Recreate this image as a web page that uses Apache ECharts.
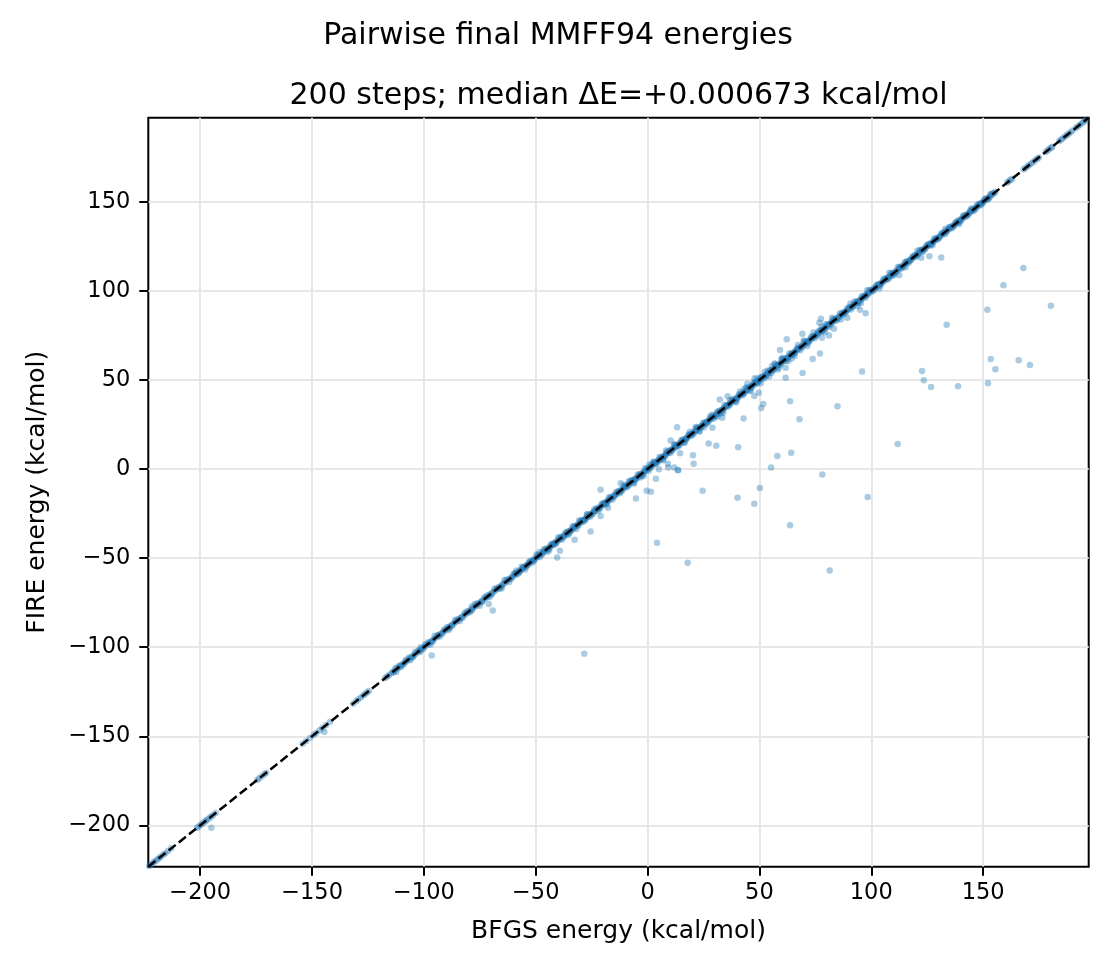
<!DOCTYPE html>
<html><head><meta charset="utf-8">
<script src="https://cdn.jsdelivr.net/npm/echarts@6/dist/echarts.min.js"></script>
<style>html,body{margin:0;padding:0;background:#fff}#c{width:1116px;height:972px}</style>
</head><body><div id="c"></div>
<script>
const axisMin = -223.2, axisMax = 197.2;
const tickValues = [-200, -150, -100, -50, 0, 50, 100, 150];
const titleMain = 'Pairwise final MMFF94 energies';
const titleSub = '200 steps; median ΔE=+0.000673 kcal/mol';
const xName = 'BFGS energy (kcal/mol)';
const yName = 'FIRE energy (kcal/mol)';

// molecules where FIRE and BFGS converge to the same energy (kcal/mol)
const sameEnergy = [
-222.8,-222.1,-221.5,-220.6,-219.9,-219.0,-218.2,-217.5,-216.4,-215.6,-214.3,-212.9,
-201.4,-200.6,-199.8,-199.1,-198.3,-197.6,-196.9,-196.0,-195.2,-194.3,-193.1,
-174.5,-173.6,-172.4,-171.3,-170.5,
-154.2,-152.6,-150.8,-149.3,-148.1,-146.6,-145.4,-143.7,-141.9,
-131.7,-130.3,-129.4,-128.2,-127.1,-126.3,-125.4,-124.6,
-117.3,-116.4,-115.7,-114.6,-113.9,-113.1,-112.2,-111.6,-110.7,-110.0,-109.2,-108.4,-107.9,-107.1,-106.3,-105.5,-104.8,-104.2,-103.4,-102.6,-101.9,-101.3,-100.5,-99.7,-99.2,-98.3,-97.7,-96.9,-96.2,-95.6,-94.7,-94.0,-93.3,-92.8,-91.7,-91.1,-90.5,-89.6,-88.9,-88.2,-87.6,-86.7,-86.0,-85.4,-84.5,-83.8,-83.2,-82.3,-81.6,-80.9,-80.1,-79.5,-78.7,-78.0,-77.2,-76.6,-75.9,-75.1,-74.4,-73.8,-73.0,-72.3,-71.5,-70.8,-70.2,-69.5,-68.7,-68.0,-67.3,-66.5,-65.9,-65.0,-64.4,-63.7,-63.0,-62.2,-61.6,-60.9,-60.3,
-59.6,-59.0,-58.7,-58.0,-57.4,-57.1,-56.5,-55.8,-55.4,-54.9,-54.2,-53.8,-53.1,-52.7,-52.0,-51.5,-51.1,-50.4,-49.9,-49.3,-48.8,-48.4,-47.7,-47.2,-46.6,-46.2,-45.5,-44.9,-44.6,-43.9,-43.3,-42.8,-42.3,-41.7,-41.2,-40.8,-40.1,-39.6,-39.0,-38.7,-38.1,-37.4,-37.0,-36.3,-35.9,-35.2,-34.8,-34.3,-33.6,-33.2,-32.7,-32.1,-31.5,-31.1,-30.4,-30.0,-29.3,-28.9,-28.4,-27.7,-27.3,-26.6,-26.2,-25.7,-25.1,-24.5,-24.0,-23.6,-22.9,-22.5,-21.8,-21.4,-20.7,-20.2,-19.8,-19.1,-18.7,-18.0,-17.6,-17.0,-16.4,-16.0,-15.3,-14.9,-14.2,-13.8,-13.1,-12.7,-12.0,-11.6,-11.1,-10.4,-9.9,-9.5,-8.8,-8.3,-7.9,-7.2,-6.8,-6.1,-5.7,-5.0,-4.6,-3.9,-3.5,-2.8,-2.4,-1.7,-1.3,-0.6,-0.2,
0.3,0.9,1.4,1.8,2.4,2.9,3.5,3.9,4.6,5.0,5.7,6.1,6.8,7.2,7.7,8.3,8.8,9.3,9.8,10.4,10.9,11.3,12.0,12.4,13.1,13.5,14.2,14.6,15.1,15.7,16.2,16.8,17.3,17.9,18.3,18.9,19.4,20.0,20.5,21.1,21.6,22.0,22.7,23.1,23.8,24.2,24.9,25.3,25.8,26.4,26.9,27.5,28.0,28.4,29.1,29.5,30.2,30.7,31.1,31.8,32.2,32.9,33.3,33.9,34.4,35.0,35.5,36.1,36.6,37.0,37.7,38.2,38.8,39.2,39.9,40.3,41.0,41.4,42.1,42.5,43.0,43.7,44.1,44.8,45.2,45.9,46.4,46.8,47.4,48.0,48.5,49.0,49.6,
50.1,50.7,51.2,51.7,52.3,52.8,53.4,53.8,54.5,54.9,55.5,56.0,56.6,57.1,57.5,58.2,58.6,59.3,59.7,60.4,60.8,61.5,62.0,62.4,63.1,63.6,64.2,64.6,65.3,65.8,66.2,66.9,67.4,68.0,68.5,69.1,69.5,70.2,70.6,71.3,71.8,72.3,72.9,73.4,73.9,74.5,75.0,75.6,76.1,76.5,77.2,77.7,78.3,78.8,79.2,79.9,80.4,81.0,81.5,82.1,82.5,83.2,83.7,84.3,84.7,85.4,85.9,86.3,87.0,87.5,88.1,88.6,89.0,89.7,90.2,90.8,91.3,91.9,92.3,93.0,93.5,94.1,94.5,95.2,95.7,96.1,96.8,97.3,97.9,98.4,98.8,99.5,
100.0,100.6,101.1,101.7,102.1,102.8,103.3,103.9,104.3,105.0,105.5,106.1,106.6,107.2,107.6,108.3,108.8,109.4,109.9,110.3,111.0,111.5,112.1,112.6,113.2,113.6,114.3,114.8,115.4,115.9,116.5,116.9,117.6,118.1,118.7,119.2,119.8,120.2,120.9,121.4,122.0,122.5,123.1,123.5,124.2,124.7,125.3,125.8,126.4,126.8,127.5,128.0,128.6,129.1,129.7,130.1,130.8,131.3,131.9,132.4,133.0,133.4,134.1,134.6,135.2,135.7,136.3,136.7,137.4,137.9,138.5,139.0,139.6,140.0,140.7,141.2,141.8,142.3,142.9,143.3,144.0,144.5,145.1,145.6,146.2,146.6,147.3,147.8,148.4,148.9,149.5,149.9,
150.6,151.1,151.7,152.3,152.9,153.6,154.2,154.9,155.5,
160.8,161.5,162.2,163.0,168.1,168.9,169.8,170.6,171.5,172.4,173.3,174.2,174.9,178.0,178.8,179.6,180.4,180.9,184.1,184.9,185.7,186.6,187.4,188.2,189.1,190.0,191.4,192.3,193.1,194.0,194.8,195.5,196.1
];

// molecules just off the diagonal (|ΔE| of about 0.5-2 kcal/mol)
const bfgsNear = [
-112.6,-108.1,-103.9,-99.4,-95.2,-90.8,-86.1,-81.7,-77.3,-72.9,-68.4,-64.0,-59.8,-56.3,-53.1,-49.7,-46.4,-43.2,-40.0,-36.7,-33.5,-30.2,-27.0,-23.8,-20.5,-17.3,-14.1,-10.8,-7.6,-4.4,-1.2,2.1,5.3,8.5,11.8,15.0,18.2,21.4,24.7,27.9,31.1,34.4,37.6,40.8,44.1,47.3,50.5,53.7,57.0,60.2,63.4,66.7,69.9,73.1,76.4,79.6,82.8,86.0,89.3,92.5,95.7,99.0,102.2,105.4,108.7,111.9,115.1,118.3,121.6,124.8,128.0,131.3,134.5,137.7,141.0,144.2,147.4,150.6,153.2,
-110.3,-106.0,-101.6,-97.1,-92.9,-88.5,-83.9,-79.4,-75.1,-70.6,-66.2,-61.9,-58.0,-54.7,-51.4,-48.1,-44.8,-41.6,-38.3,-35.1,-31.9,-28.6,-25.4,-22.1,-18.9,-15.7,-12.4,-9.2,-6.0,-2.8,0.5,3.7,6.9,10.2,13.4,16.6,19.8,23.1,26.3,29.5,32.8,36.0,39.2,42.5,45.7,48.9,52.1,55.4,58.6,61.8,65.1,68.3,71.5,74.8,78.0,81.2,84.4,87.7,90.9,94.1,97.4,100.6,103.8,107.1,110.3,113.5,116.7,120.0,123.2,126.4,129.7,132.9,136.1,139.4,142.6,145.8,149.0,151.9,
-111.0,-106.7,-102.4,-98.0,-93.8,-89.6,-85.0,-80.6,-76.2,-71.8,-67.3,-63.1,-59.1,-55.6,-52.3,-49.0,-45.6,-42.4,-39.1,-35.9,-32.7,-29.4,-26.2,-22.9,-19.7,-16.5,-13.2,-10.0,-6.8,-3.6,-0.3,2.9,6.1,9.4,12.6,15.8,19.0,22.3,25.5,28.7,32.0,35.2,38.4,41.7,44.9,48.1,51.3,54.6,57.8,61.0,64.3,67.5,70.7,74.0,77.2,80.4,83.6,86.9,90.1,93.3,96.6,99.8,103.0,106.3,109.5,112.7,115.9,119.2,122.4,125.6,128.9,132.1,135.3,138.6,141.8,145.0,148.2,151.2,154.0,
-113.4,-109.2,-104.9,-100.4,-96.1,-91.8,-87.3,-82.8,-78.5,-74.0,-69.6,-65.2,-61.0,-57.2,-53.9,-50.6,-47.2,-44.0,-40.8,-37.5,-34.3,-31.0,-27.8,-24.6,-21.3,-18.1,-14.9,-11.6,-8.4,-5.2,-2.0,1.3,4.5,7.7,11.0,14.2,17.4,20.6,23.9,27.1,30.3,33.6,36.8,40.0,43.3,46.5,49.7,52.9,56.2,59.4,62.6,65.9,69.1,72.3,75.6,78.8,82.0,85.2,88.5,91.7,94.9,98.2,101.4,104.6,107.9,111.1,114.3,117.5,120.8,124.0,127.2,130.5,133.7,136.9,140.2,143.4,146.6,149.8,152.6
];
const fireNear = [
-111.5,-107.2,-102.5,-98.4,-93.6,-90.0,-84.8,-80.7,-75.8,-72.0,-67.2,-62.3,-58.7,-54.8,-52.2,-47.9,-45.2,-42.2,-38.4,-35.6,-32.1,-29.3,-25.3,-22.6,-19.5,-15.8,-13.0,-9.0,-6.6,-3.1,0.4,3.1,6.8,9.4,13.5,16.2,19.2,23.2,25.8,29.3,32.1,36.0,38.8,41.7,45.8,48.6,51.5,55.2,58.9,61.3,64.8,67.7,71.5,74.3,77.3,81.1,83.9,87.3,90.3,94.1,96.8,100.4,103.1,106.7,109.7,113.4,116.2,119.2,122.9,125.8,129.2,132.2,135.6,138.5,142.2,145.1,148.4,151.4,154.2,
-111.3,-107.3,-102.5,-98.6,-94.0,-89.3,-85.3,-80.4,-76.7,-71.8,-67.1,-63.4,-59.1,-56.4,-52.4,-49.4,-46.4,-42.5,-39.7,-36.2,-33.7,-29.6,-26.7,-23.6,-19.8,-17.3,-13.6,-10.2,-7.7,-3.9,-0.9,2.7,5.3,9.0,12.5,15.1,18.7,21.3,25.3,28.2,31.2,35.1,37.8,41.4,44.0,47.9,50.8,53.9,56.7,60.6,64.1,66.7,70.4,73.4,77.0,79.7,83.2,86.8,89.5,93.0,96.1,99.6,102.6,106.2,109.0,112.5,115.6,119.1,122.0,125.4,128.9,131.8,135.2,138.4,141.8,144.8,148.1,151.1,
-110.4,-105.8,-101.9,-97.2,-93.1,-88.7,-84.5,-79.8,-75.5,-71.0,-66.8,-62.2,-58.4,-55.0,-51.5,-48.3,-44.8,-41.9,-38.2,-35.2,-32.0,-28.7,-25.7,-22.1,-19.0,-15.9,-12.3,-9.4,-6.0,-2.9,0.3,3.8,6.6,10.2,13.3,16.6,19.5,23.2,26.1,29.5,32.7,35.8,39.3,42.3,45.7,48.8,52.0,55.4,58.4,61.8,65.0,68.1,71.5,74.6,78.0,81.2,84.2,87.7,90.8,94.1,97.2,100.6,103.7,107.1,110.1,113.5,116.6,120.0,123.0,126.3,129.6,132.8,136.0,139.3,142.4,145.7,148.9,151.9,154.6,
-114.1,-109.9,-105.7,-101.0,-96.9,-92.5,-87.9,-83.6,-79.2,-74.6,-70.4,-65.9,-61.6,-58.0,-54.5,-51.4,-47.9,-44.6,-41.6,-38.2,-34.9,-31.8,-28.5,-25.2,-22.1,-18.8,-15.5,-12.4,-9.1,-5.8,-2.8,0.6,3.8,6.9,10.4,13.4,16.7,19.8,23.3,26.3,29.6,32.9,36.1,39.2,42.6,45.7,49.1,52.1,55.5,58.6,62.0,65.1,68.4,71.6,74.8,78.1,81.3,84.5,87.8,91.0,94.2,97.5,100.6,104.0,107.1,110.4,113.6,116.9,120.1,123.3,126.6,129.8,133.0,136.3,139.5,142.8,145.9,149.2,151.9
];

// molecules whose FIRE energy differs clearly from BFGS (kcal/mol)
const bfgsOff = [
168.0,159.1,180.3,151.9,133.7,131.3,126.0,122.3,112.5,97.5,95.0,153.4,155.5,165.9,170.9,122.7,123.5,126.7,138.8,152.2,95.9,111.8,84.9,67.9,63.7,58.0,64.2,55.2,78.1,98.4,50.2,40.2,24.6,73.8,77.1,69.3,40.5,42.9,30.7,27.3,20.6,20.3,13.2,13.5,3.7,-0.4,1.5,-5.2,-21.0,50.8,51.7,47.7,49.7,62.2,59.2,89.3,61.7,47.7,63.7,81.4,17.9,4.2,-28.3,-96.5,-25.5,-32.6,-40.4,-39.2,-69.2,-71.0,-195.0,-144.5,81.1,83.3,76.8,77.5,10.3,32.3,35.8,44.6,47.9,61.7,33.4,29.0,
-12.0,14.5,9.1,-21.0,-17.7,5.1,9.2,11.9,13.7,78.0,69.2,109.4,
-48.2,-35.5,-27.1,-18.3,-8.4,-3.2,2.7,6.8,12.1,16.4,21.8,25.2,28.7,31.3,36.9,39.6,43.2,46.1,52.4,54.3,56.8,58.2,60.3,65.7,67.2,71.4,74.1,79.3,82.5,86.4,90.7,93.8,98.2,103.6,108.1,115.3,120.6,127.4,133.0,139.2,144.8,-65.3,-78.6,-88.9,-101.5,-112.3,-58.6,-44.0,0.8,-1.8,18.9,33.8,48.9,62.9,77.9,95.4,-30.5,-6.2,8.3,23.3,41.3,50.6,55.6,59.8,64.4,69.8
];
const fireOff = [
112.8,103.1,91.7,89.4,81.0,118.8,119.4,118.6,108.9,87.4,89.4,61.7,56.0,61.0,58.4,55.0,49.8,46.0,46.4,48.1,54.8,14.0,35.2,27.9,38.0,7.3,9.1,0.9,-3.0,-15.7,-10.7,-16.1,-12.2,61.7,64.9,53.9,12.2,28.4,13.1,14.4,2.9,7.8,23.4,-0.6,-5.5,-12.2,-12.8,-16.5,-11.6,34.2,36.5,41.0,42.8,72.8,66.8,84.9,51.3,-19.5,-31.6,-56.9,-52.6,-41.4,-103.7,-104.6,-35.0,-39.7,-49.6,-45.9,-79.4,-75.8,-201.4,-147.5,75.0,78.8,82.1,84.3,16.0,39.1,40.9,47.9,50.9,56.9,28.8,23.2,
-8.0,8.8,3.0,-26.4,-21.7,-0.1,0.8,0.8,-0.7,73.7,76.0,108.4,
-46.5,-37.0,-25.6,-19.9,-6.8,-4.7,4.3,5.0,13.9,14.6,23.6,23.4,30.5,29.4,38.8,37.5,45.1,44.0,54.6,52.0,59.3,55.9,62.5,63.4,69.6,69.0,76.6,76.8,84.9,84.0,92.9,91.5,100.4,101.4,110.2,113.2,122.5,125.6,134.7,137.6,146.3,-67.0,-77.1,-90.4,-100.0,-113.8,-56.9,-45.6,2.6,-3.9,20.9,31.6,50.8,60.7,80.0,93.2,-28.7,-8.1,10.4,21.1,43.5,48.2,57.9,61.7,62.0,72.1
];

const FONT = 'DejaVu Sans';
const fmt = v => String(v).replace('-', '\u2212');
const points = sameEnergy.map(e => [e, e])
  .concat(bfgsNear.map((b, i) => [b, fireNear[i]]))
  .concat(bfgsOff.map((b, i) => [b, fireOff[i]]));

const chart = echarts.init(document.getElementById('c'), null, {renderer: 'canvas'});
const axisCommon = {
  type: 'value', min: axisMin, max: axisMax,
  axisLine: {show: false, onZero: false},
  axisTick: {show: true, length: 9, customValues: tickValues, lineStyle: {color: '#000', width: 2}},
  splitLine: {show: true, lineStyle: {color: '#e7e7e7', width: 2}},
  nameLocation: 'middle',
  nameTextStyle: {fontSize: 25, color: '#000', fontFamily: FONT}
};
chart.setOption({
  animation: false,
  backgroundColor: '#fff',
  textStyle: {fontFamily: FONT},
  title: [
    {text: titleMain, left: 553, top: 16, textAlign: 'center',
     textStyle: {fontSize: 30, fontWeight: 'normal', color: '#000', fontFamily: FONT}},
    {text: titleSub, left: 613.5, top: 76, textAlign: 'center',
     textStyle: {fontSize: 30, fontWeight: 'normal', color: '#000', fontFamily: FONT}}
  ],
  grid: {left: 148.3, top: 117.7, width: 940.4, height: 749, show: true,
         borderColor: '#000', borderWidth: 2, backgroundColor: 'transparent',
         containLabel: false, outerBoundsMode: 'none'},
  xAxis: Object.assign({}, axisCommon, {
    name: xName, nameGap: 52,
    axisLabel: {customValues: tickValues, formatter: fmt, fontSize: 22.5, color: '#000', margin: 15, fontFamily: FONT}
  }),
  yAxis: Object.assign({}, axisCommon, {
    name: yName, nameGap: 98,
    axisLabel: {customValues: tickValues, formatter: fmt, fontSize: 22.5, color: '#000', margin: 18, fontFamily: FONT}
  }),
  series: [
    {type: 'scatter', data: points, symbolSize: 6.5, z: 2,
     itemStyle: {color: '#1f77b4', opacity: 0.38}, silent: true},
    {type: 'line', data: [[axisMin, axisMin], [axisMax, axisMax]], symbol: 'none', z: 5, silent: true,
     lineStyle: {color: '#000', width: 2.5, type: [9, 4]}}
  ]
});
</script></body></html>
